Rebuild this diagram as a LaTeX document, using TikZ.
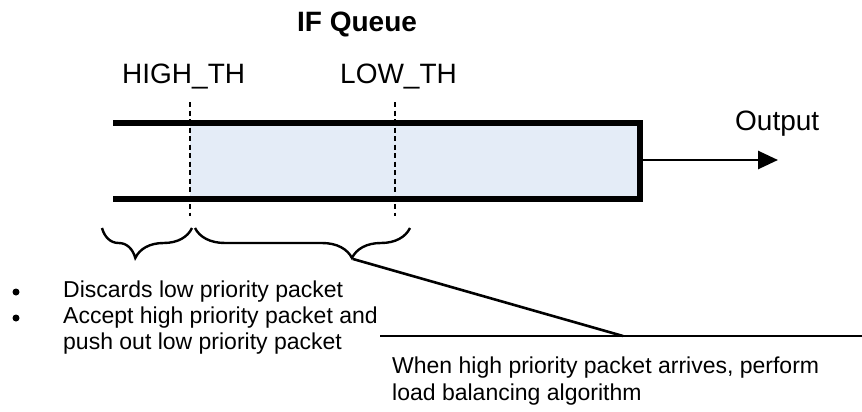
\documentclass[tikz,border=0pt]{standalone}
\usepackage{fontspec}
\setmainfont{Liberation Sans}
\usetikzlibrary{arrows.meta,decorations.pathreplacing}
\definecolor{qfill}{HTML}{E4ECF7}
\tikzset{
  lbl/.style={inner sep=0pt, anchor=base west, font=\fontsize{28}{32}\selectfont},
  small/.style={inner sep=0pt, anchor=base west, font=\fontsize{23}{26}\selectfont},
  wall/.style={line width=6pt, line join=miter},
  thr/.style={line width=2.2pt, dash pattern=on 5pt off 3.5pt},
  brc/.style={line width=2.4pt, decorate, decoration={brace, mirror, amplitude=30pt}},
  lead/.style={line width=2.6pt},
  bul/.style={circle, fill, inner sep=0pt, minimum size=7pt}
}
\begin{document}
\begin{tikzpicture}[x=1pt,y=-1pt]
\useasboundingbox (0,0) rectangle (862,412);
% queue
\fill[qfill] (190,123) rectangle (640,199);
\draw[wall] (113,123) -- (640,123) -- (640,199) -- (113,199);
% thresholds
\coordinate (h1) at (190,102); \coordinate (h2) at (190,216);
\coordinate (l1) at (395,102); \coordinate (l2) at (395,216);
\draw[thr] (h1) -- (h2);
\draw[thr] (l1) -- (l2);
% output arrow
\coordinate (outS) at (643,160); \coordinate (outE) at (778,160);
\draw[line width=2.7pt,-{Triangle[length=20pt,width=18pt]}] (outS) -- (outE);
% labels
\node[lbl, font=\fontsize{28}{32}\selectfont\bfseries] (title) at (297,32) {IF Queue};
\node[lbl] (high) at (122,83) {HIGH\_TH};
\node[lbl] (low) at (340,83) {LOW\_TH};
\node[lbl] (out) at (735,130) {Output};
% braces
\coordinate (b1a) at (102,228); \coordinate (b1b) at (192,228);
\coordinate (b2a) at (195,228); \coordinate (b2b) at (410,228);
\draw[brc, decoration={aspect=0.37}] (b1a) -- (b1b);
\draw[brc, decoration={aspect=0.73}] (b2a) -- (b2b);
% leader
\coordinate (tip) at (353,259);
\coordinate (kink) at (623,336);
\coordinate (lstart) at (380,336);
\coordinate (lend) at (862,336);
\draw[lead] (tip) -- (kink);
\draw[lead] (lstart) -- (lend);
% bullets
\node[small] (d1) at (63,297) {Discards low priority packet};
\node[small] (d2) at (63,323) {Accept high priority packet and};
\node[small] (d3) at (63,349) {push out low priority packet};
\node[bul] (p1) at (16,292) {};
\node[bul] (p2) at (16,318) {};
% bottom text
\node[small] (w1) at (392,373) {When high priority packet arrives, perform};
\node[small] (w2) at (392,400) {load balancing algorithm};
\end{tikzpicture}
\end{document}
